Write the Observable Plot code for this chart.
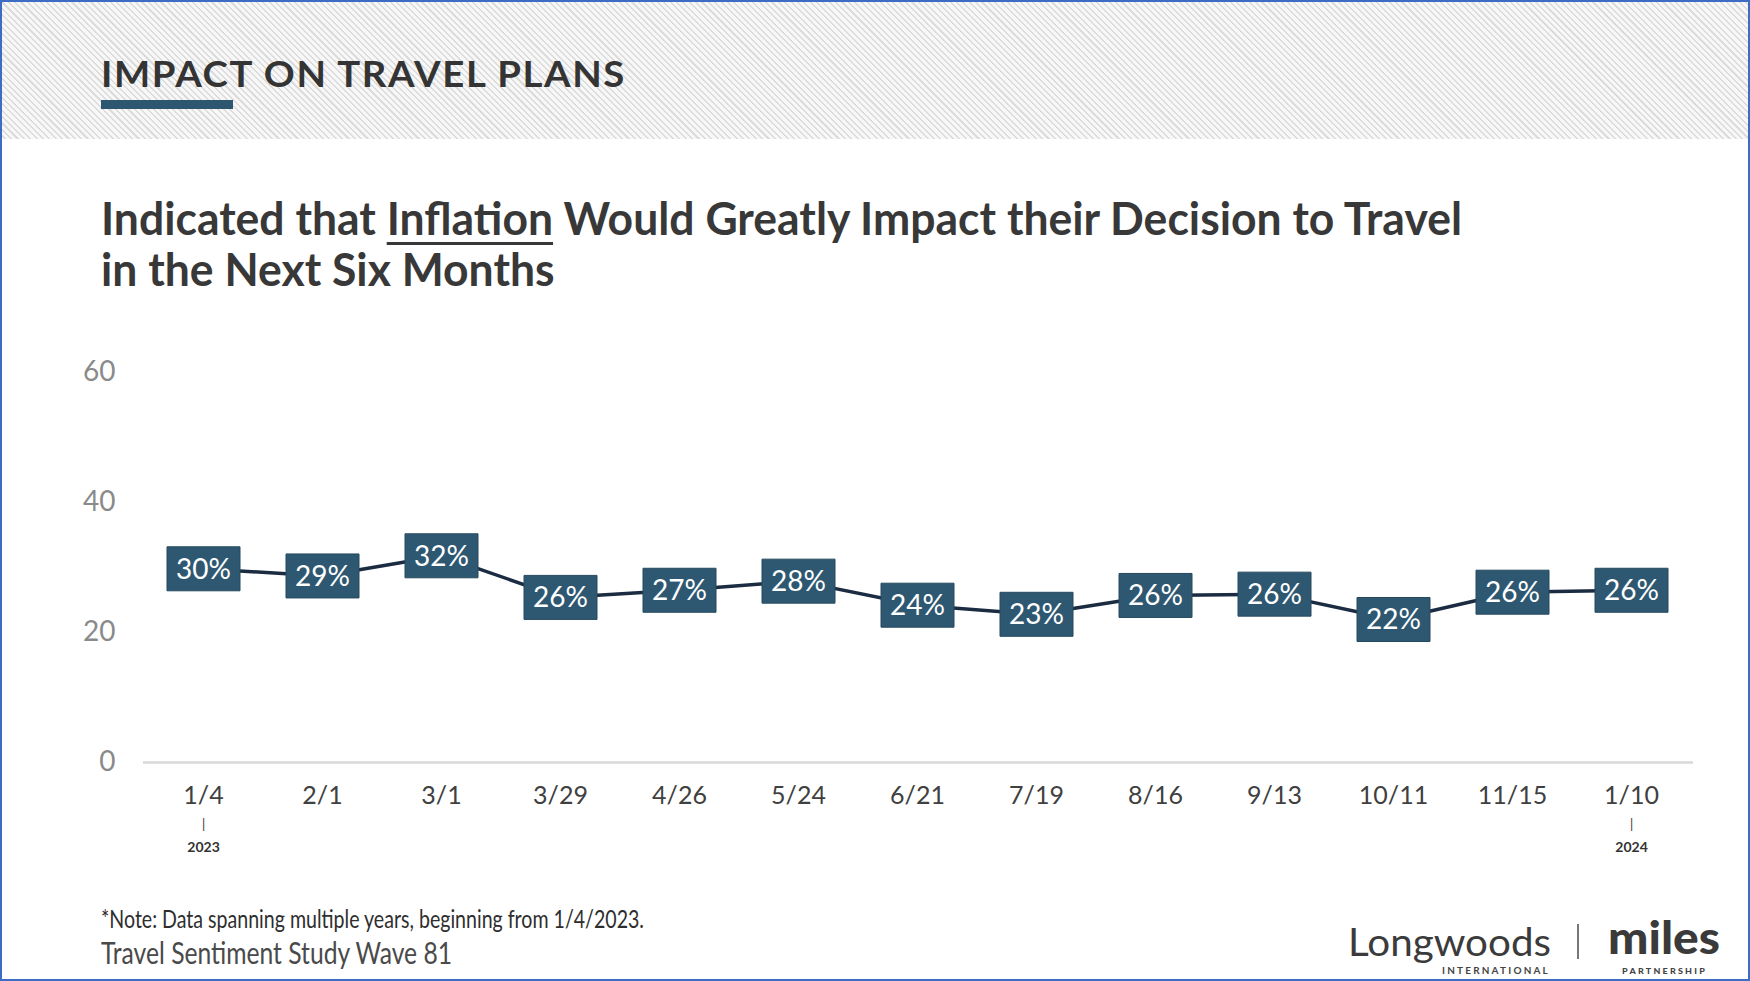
<!DOCTYPE html>
<html>
<head>
<meta charset="utf-8">
<script src="https://cdn.jsdelivr.net/npm/d3@7"></script>
<script src="https://cdn.jsdelivr.net/npm/@observablehq/plot@0.6"></script>
<style>
html,body{margin:0;padding:0;background:#fff;}
#page{position:relative;width:1750px;height:981px;overflow:hidden;font-family:Lato,"Noto Sans",sans-serif;background:#fff;}
#band{position:absolute;left:0;top:0;width:1750px;height:139px;background:repeating-linear-gradient(45deg,#f7f7f7 0 3px,#dcdcdc 3px 4.5px);}
.t{position:absolute;white-space:nowrap;transform-origin:0 0;}
#title{left:101px;top:55px;font-size:36px;line-height:36px;font-weight:700;color:#343434;letter-spacing:1.5px;}
#bar{position:absolute;left:101px;top:100px;width:132px;height:9px;background:#2d5670;}
#sub{left:101px;top:193px;font-size:45px;line-height:51px;font-weight:700;color:#383838;}
#sub u{text-decoration-thickness:3px;text-underline-offset:7px;}
#chart{position:absolute;left:0;top:340px;}
#note{left:101px;top:906px;font-size:25px;line-height:25px;color:#2e2e2e;}
#wave{left:101px;top:937px;font-size:30px;line-height:30px;color:#4a4a4a;}
#lw{left:1348px;top:922px;font-size:38px;line-height:38px;color:#3b3b3b;}
#lwi{left:1442px;top:966px;font-size:9px;line-height:9px;font-weight:700;color:#444;letter-spacing:2px;}
#sep{position:absolute;left:1577px;top:924px;width:2px;height:35px;background:#777;}
#miles{left:1608px;top:915px;font-size:45px;line-height:45px;font-weight:900;color:#3a3a3a;}
#mp{left:1622px;top:967px;font-size:8px;line-height:8px;font-weight:900;color:#444;letter-spacing:2px;}
#frame{position:absolute;left:0;top:0;width:1750px;height:981px;box-sizing:border-box;border:2px solid #3d6cc4;pointer-events:none;}
</style>
</head>
<body>
<div id="page">
  <div id="band"></div>
  <div class="t" id="title">IMPACT ON TRAVEL PLANS</div>
  <div id="bar"></div>
  <div class="t" id="sub"><span id="sub1">Indicated that <u>Inflation</u> Would Greatly Impact their Decision to Travel</span><br><span id="sub2">in the Next Six Months</span></div>
  <div id="chart"></div>
  <div class="t" id="note">*Note: Data spanning multiple years, beginning from 1/4/2023.</div>
  <div class="t" id="wave">Travel Sentiment Study Wave 81</div>
  <div class="t" id="lw">Longwoods</div>
  <div class="t" id="lwi">INTERNATIONAL</div>
  <div id="sep"></div>
  <div class="t" id="miles">miles</div>
  <div class="t" id="mp">PARTNERSHIP</div>
  <div id="frame"></div>
</div>
<script>
// ---- data ----
const dates = ["1/4","2/1","3/1","3/29","4/26","5/24","6/21","7/19","8/16","9/13","10/11","11/15","1/10"];
const values = [29.8, 28.7, 31.8, 25.4, 26.5, 27.9, 24.2, 22.8, 25.7, 25.9, 22.0, 26.2, 26.5];
const labels = ["30%","29%","32%","26%","27%","28%","24%","23%","26%","26%","22%","26%","26%"];
const yTicks = [0, 20, 40, 60];
const yearDates = ["1/4", "1/10"];
const yearLabels = ["2023", "2024"];

const rows = dates.map((d, i) => ({date: d, value: values[i], label: labels[i]}));
const years = yearDates.map((d, i) => ({date: d, year: yearLabels[i]}));

// rectangular label box symbol
const box = {draw(ctx) { ctx.rect(-36.5, -22, 73, 44); }};

const chart = Plot.plot({
  width: 1750,
  height: 530,
  marginTop: 32,
  marginBottom: 108,
  marginLeft: 143,
  marginRight: 57,
  style: {fontFamily: "Lato, 'Noto Sans', sans-serif", background: "transparent", overflow: "visible"},
  x: {type: "point", domain: dates, padding: 0, insetLeft: 57, insetRight: 60, label: null},
  y: {domain: [0, 60], label: null},
  marks: [
    Plot.ruleY([0], {stroke: "#d9d9d9", strokeWidth: 2.5}),
    Plot.axisY({ticks: yTicks, tickSize: 0, tickPadding: 28, fontSize: 28, color: "#8a8a8a", fill: "#8a8a8a", label: null}),
    Plot.axisX({tickSize: 0, tickPadding: 24, fontSize: 25, color: "#404040", fill: "#404040", label: null}),
    Plot.text(years, {x: "date", y: () => 0, text: () => "|", dy: 62, fontSize: 13, fill: "#333"}),
    Plot.text(years, {x: "date", y: () => 0, text: "year", dy: 85, fontSize: 14, fontWeight: "bold", fill: "#333"}),
    Plot.line(rows, {x: "date", y: "value", stroke: "#1b2c42", strokeWidth: 3.5}),
    Plot.dot(rows, {x: "date", y: "value", r: 20, symbol: box, fill: "#2e5871", stroke: "#26495f", strokeWidth: 1}),
    Plot.text(rows, {x: "date", y: "value", text: "label", fill: "white", fontSize: 28, dy: 1})
  ]
});
document.getElementById("chart").appendChild(chart);

// fit header/footer text widths to the layout
function fit() {
  const targets = [["title", 525], ["sub", 1361, "sub1"], ["note", 543], ["wave", 351], ["lw", 203], ["lwi", 108], ["miles", 112], ["mp", 85]];
  for (const [id, w, ref] of targets) {
    const el = document.getElementById(id);
    el.style.transform = "none";
    const m = ref ? document.getElementById(ref).getBoundingClientRect().width : el.getBoundingClientRect().width;
    if (m > 0) el.style.transform = `scaleX(${w / m})`;
  }
}
fit();
if (document.fonts && document.fonts.ready) document.fonts.ready.then(fit);
</script>
</body>
</html>
